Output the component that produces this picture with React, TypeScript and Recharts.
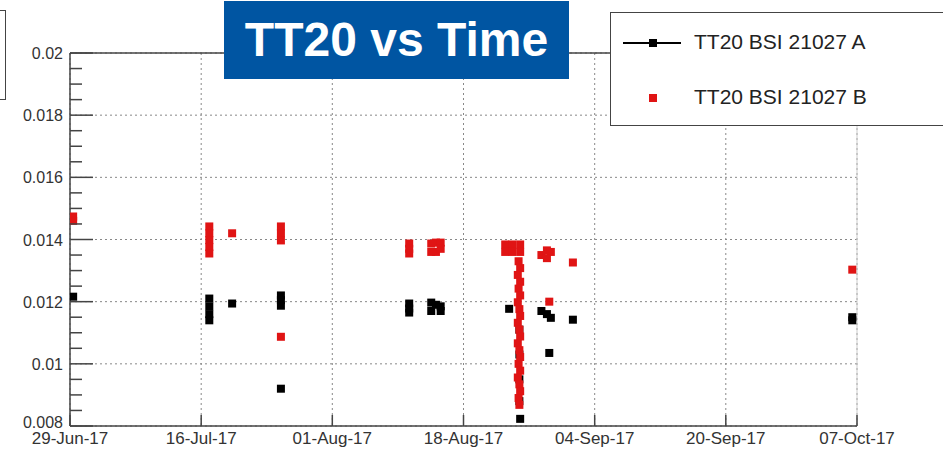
import React from "react";
import {
  ScatterChart,
  Scatter,
  XAxis,
  YAxis,
  CartesianGrid,
  ReferenceLine,
} from "recharts";

// x is days since 29-Jun-17
const xTickDays = [0, 16.67, 33.33, 50, 66.67, 83.33, 100];
const xTickLabels = [
  "29-Jun-17",
  "16-Jul-17",
  "01-Aug-17",
  "18-Aug-17",
  "04-Sep-17",
  "20-Sep-17",
  "07-Oct-17",
];
const yMajorTicks = [0.008, 0.01, 0.012, 0.014, 0.016, 0.018, 0.02];
const yTickLabels = ["0.008", "0.01", "0.012", "0.014", "0.016", "0.018", "0.02"];

// TT20 BSI 21027 A  [day, value]
const seriesA: [number, number][] = [
  [0.4, 0.01216],
  [17.7, 0.0121], [17.7, 0.01185], [17.7, 0.0116], [17.7, 0.0114],
  [20.6, 0.01194],
  [26.8, 0.0122], [26.8, 0.01205], [26.8, 0.01187],
  [26.8, 0.0092],
  [43.1, 0.01194], [43.1, 0.01178], [43.1, 0.01165],
  [45.9, 0.01197], [46.5, 0.0119], [47.1, 0.01185], [45.9, 0.0117], [47.1, 0.0117],
  [55.8, 0.01177],
  [57.1, 0.0111], [57.1, 0.0103], [57.1, 0.0095], [57.1, 0.0088], [57.2, 0.00823],
  [59.9, 0.0117], [60.6, 0.0116], [61.1, 0.01148],
  [60.9, 0.01035],
  [63.9, 0.01142],
  [99.4, 0.0115], [99.4, 0.0114],
];

// TT20 BSI 21027 B  [day, value]
const seriesB: [number, number][] = [
  [0.4, 0.01474], [0.4, 0.0146],
  [17.7, 0.01442], [17.7, 0.0142], [17.7, 0.01398], [17.7, 0.01376], [17.7, 0.01355],
  [20.6, 0.0142],
  [26.8, 0.01442], [26.8, 0.0142], [26.8, 0.01397],
  [26.8, 0.01087],
  [43.1, 0.01387], [43.1, 0.0137], [43.1, 0.01355],
  [45.9, 0.01387], [46.5, 0.0139], [47.1, 0.0139], [45.9, 0.0136], [46.5, 0.0136], [47.1, 0.0137],
  [55.3, 0.01384], [56.2, 0.01384], [57.2, 0.01384], [55.3, 0.0136], [56.2, 0.0136], [57.2, 0.0136],
  [57.0, 0.0133], [57.2, 0.01308], [56.9, 0.01286], [57.2, 0.01264], [57.0, 0.01242],
  [57.2, 0.0122], [56.9, 0.01198], [57.1, 0.01176], [57.2, 0.01154], [56.9, 0.01132],
  [57.1, 0.0111], [57.2, 0.01088], [56.9, 0.01066], [57.1, 0.01044], [57.2, 0.01022],
  [57.0, 0.01], [57.2, 0.00978], [56.9, 0.00956], [57.1, 0.00934], [57.2, 0.00912],
  [57.0, 0.0089], [57.1, 0.00868],
  [59.9, 0.0135], [60.6, 0.01365], [61.1, 0.0136], [60.6, 0.0134],
  [60.9, 0.012],
  [63.9, 0.01326],
  [99.4, 0.01303],
];

const dataA = seriesA.map(([t, v]) => ({ t, v }));
const dataB = seriesB.map(([t, v]) => ({ t, v }));

// four minor divisions between labelled ticks
const yAllTicks: number[] = [];
yMajorTicks.forEach((m, i) => {
  yAllTicks.push(m);
  if (i < yMajorTicks.length - 1) {
    for (let k = 1; k < 4; k++) yAllTicks.push(m + (k * 0.002) / 4);
  }
});

const FONT = "'Liberation Sans', Arial, Helvetica, sans-serif";
const AXIS = "#444";
const RED = "#e01414";

const square = (color: string) => (props: any) => {
  const { cx, cy } = props;
  if (cx == null || cy == null) return <g />;
  return <rect x={cx - 4} y={cy - 4} width={8} height={8} fill={color} />;
};

const YTick = (props: any) => {
  const { x, y, payload } = props;
  const idx = yMajorTicks.findIndex((m) => Math.abs(m - payload.value) < 1e-7);
  const major = idx >= 0;
  // lowest label sits a little higher, next to the first date
  const dy = idx === 0 ? 2 : 6;
  return (
    <g>
      <line x1={x} x2={x + (major ? 23 : 12)} y1={y} y2={y} stroke={AXIS} strokeWidth={1.5} />
      {major && (
        <text x={x - 7} y={y + dy} textAnchor="end" fontSize={16} fill="#333" fontFamily={FONT}>
          {yTickLabels[idx]}
        </text>
      )}
    </g>
  );
};

const XTick = (props: any) => {
  const { x, y, payload } = props;
  const idx = xTickDays.findIndex((d) => Math.abs(d - payload.value) < 1e-6);
  return (
    <g>
      <line x1={x} x2={x} y1={y - 11} y2={y} stroke={AXIS} strokeWidth={1.5} />
      <text x={x} y={y + 18} textAnchor="middle" fontSize={17} fill="#333" fontFamily={FONT}>
        {xTickLabels[idx]}
      </text>
    </g>
  );
};

export default function App() {
  return (
    <div
      style={{
        position: "absolute",
        left: 0,
        top: 0,
        width: 943,
        height: 453,
        overflow: "hidden",
        background: "#fff",
        fontFamily: FONT,
      }}
    >
      <ScatterChart width={943} height={453} margin={{ top: 53, right: 86, bottom: 0, left: 10 }}>
        <CartesianGrid
          stroke="#888"
          strokeDasharray="2 3"
          horizontalValues={yMajorTicks}
          verticalValues={xTickDays}
        />
        <XAxis
          type="number"
          dataKey="t"
          domain={[0, 100]}
          ticks={xTickDays}
          interval={0}
          height={27}
          tickSize={0}
          tickMargin={0}
          tickLine={false}
          axisLine={{ stroke: AXIS, strokeWidth: 1.5 }}
          tick={(p: any) => <XTick {...p} />}
          allowDataOverflow
        />
        <YAxis
          type="number"
          dataKey="v"
          domain={[0.008, 0.02]}
          ticks={yAllTicks}
          interval={0}
          width={60}
          tickSize={0}
          tickMargin={0}
          tickLine={false}
          axisLine={{ stroke: AXIS, strokeWidth: 1.5 }}
          tick={(p: any) => <YTick {...p} />}
          allowDataOverflow
        />
        <ReferenceLine y={0.02} stroke={AXIS} strokeWidth={1.5} />
        <ReferenceLine x={100} stroke="#ccc" strokeWidth={1} />
        <Scatter
          name="TT20 BSI 21027 A"
          data={dataA}
          shape={square("#000")}
          isAnimationActive={false}
        />
        <Scatter
          name="TT20 BSI 21027 B"
          data={dataB}
          shape={square(RED)}
          isAnimationActive={false}
        />
      </ScatterChart>

      {/* box cut off at the left edge */}
      <div
        style={{
          position: "absolute",
          left: -4,
          top: 10,
          width: 8,
          height: 88,
          border: `1.5px solid ${AXIS}`,
          background: "#fff",
        }}
      />

      {/* title */}
      <div
        style={{
          position: "absolute",
          left: 224,
          top: 1,
          width: 345,
          height: 78,
          background: "#0055a2",
          color: "#fff",
          fontWeight: "bold",
          fontSize: 48,
          lineHeight: "78px",
          textAlign: "center",
          fontFamily: FONT,
        }}
      >
        TT20 vs Time
      </div>

      {/* legend */}
      <div
        style={{
          position: "absolute",
          left: 610,
          top: 12,
          width: 400,
          height: 112,
          border: `1.5px solid ${AXIS}`,
          background: "#fff",
          color: "#222",
          fontSize: 21,
          fontFamily: FONT,
        }}
      >
        <div style={{ position: "absolute", left: 12, top: 29, width: 58, height: 2, background: "#000" }} />
        <div style={{ position: "absolute", left: 38, top: 26, width: 8, height: 8, background: "#000" }} />
        <div style={{ position: "absolute", left: 83, top: 17, whiteSpace: "nowrap" }}>TT20 BSI 21027 A</div>
        <div style={{ position: "absolute", left: 38, top: 81, width: 8, height: 8, background: RED }} />
        <div style={{ position: "absolute", left: 83, top: 72, whiteSpace: "nowrap" }}>TT20 BSI 21027 B</div>
      </div>
    </div>
  );
}
